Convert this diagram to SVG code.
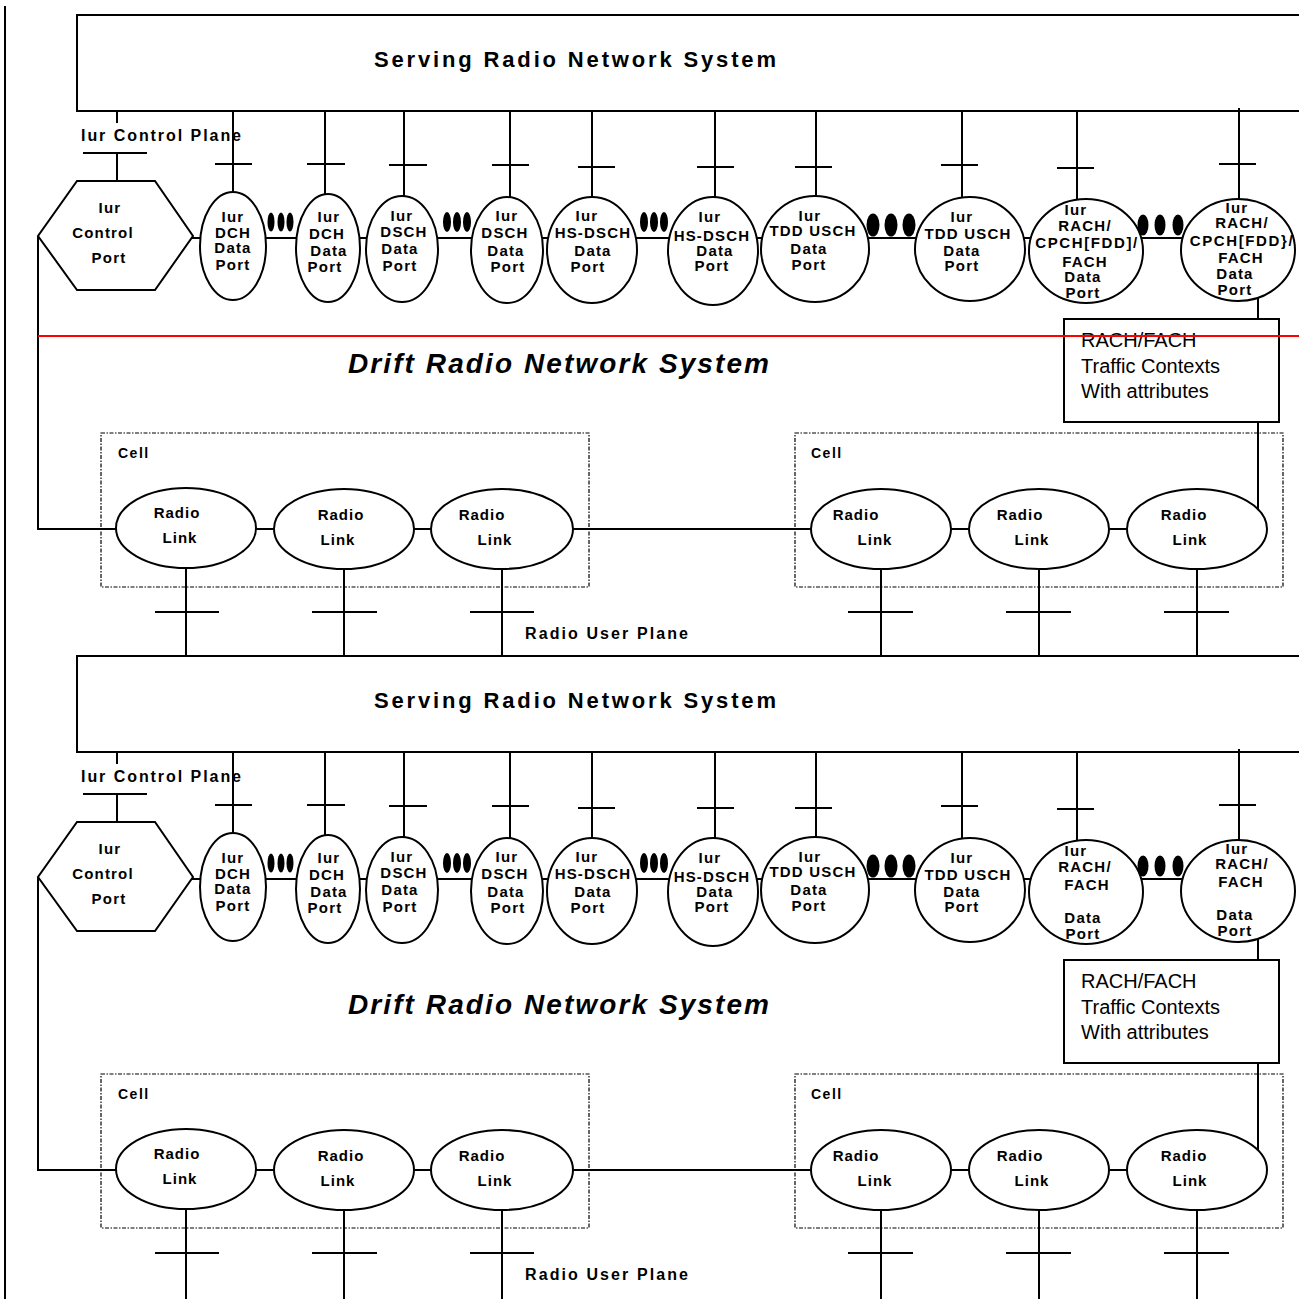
<svg xmlns="http://www.w3.org/2000/svg" width="1299" height="1299" viewBox="0 0 1299 1299">
<style>
  .ln{stroke:#000;stroke-width:2;fill:none}
  .nd{stroke:#000;stroke-width:2;fill:#fff}
  .cellbox{stroke:#000;stroke-width:1.2;fill:none;stroke-dasharray:4 1.5 1.5 1.5}
  .dot{fill:#000}
  text{font-family:"Liberation Sans",Arial,sans-serif;fill:#000}
  .pl{font-size:15px;font-weight:bold;letter-spacing:1.2px;text-anchor:middle}
  .rl{font-size:15px;font-weight:bold;letter-spacing:1px;text-anchor:middle}
  .cell{font-size:14px;font-weight:bold;letter-spacing:1.5px}
  .title{font-size:22px;font-weight:bold}
  .drift{font-size:28px;font-weight:bold;font-style:italic}
  .plane{font-size:16px;font-weight:bold}
  .ctx{font-size:20px}
</style>

<!-- left border -->
<line class="ln" x1="5" y1="6" x2="5" y2="1299"/>

<g id="connectors">
  <!-- ===== top half ===== -->
  <path class="ln" d="M117 111V123M83 153H147M117 153V181"/>
  <path class="ln" d="M233 111V246M215 164H252
    M325 111V248M307 164H345
    M404 111V249M389 165H427
    M510 111V250M492 165H529
    M592 111V250M578 167H615
    M715 111V251M697 167H734
    M816 111V249M795 167H832
    M962 111V249M941 165H978
    M1077 111V251M1057 168H1094
    M1239 108V250M1219 164H1256"/>
  <path class="ln" d="M190 238H1238"/>
  <path class="ln" d="M38 236V529H1197"/>
  <path class="ln" d="M1258 250V319M1258 422V529"/>
  <path class="ln" d="M186 529V656M155 612H219
    M344 529V656M312 612H377
    M502 529V656M470 612H534
    M881 529V656M848 612H913
    M1039 529V656M1006 612H1071
    M1197 529V656M1164 612H1229"/>

  <!-- ===== bottom half ===== -->
  <path class="ln" d="M117 752V764M83 794H147M117 794V822"/>
  <path class="ln" d="M233 752V887M215 805H252
    M325 752V889M307 805H345
    M404 752V890M389 806H427
    M510 752V891M492 806H529
    M592 752V891M578 808H615
    M715 752V892M697 808H734
    M816 752V890M795 808H832
    M962 752V890M941 806H978
    M1077 752V892M1057 809H1094
    M1239 749V891M1219 805H1256"/>
  <path class="ln" d="M190 879H1238"/>
  <path class="ln" d="M38 877V1170H1197"/>
  <path class="ln" d="M1258 891V960M1258 1063V1170"/>
  <path class="ln" d="M186 1170V1299M155 1253H219
    M344 1170V1299M312 1253H377
    M502 1170V1299M470 1253H534
    M881 1170V1299M848 1253H913
    M1039 1170V1299M1006 1253H1071
    M1197 1170V1299M1164 1253H1229"/>
</g>

<!-- ================= TOP HALF ================= -->
<g id="srns-top">
  <rect class="nd" x="77" y="15" width="1240" height="96" style="fill:none"/>
  <text class="title" x="374" y="67" textLength="402" lengthAdjust="spacing">Serving Radio Network System</text>
</g>
<text class="plane" x="81" y="141" textLength="160" lengthAdjust="spacing">Iur Control Plane</text>

<g id="cell1-top">
  <rect class="cellbox" x="101" y="433" width="488" height="154"/>
  <text class="cell" x="118" y="458">Cell</text>
</g>
<g id="cell2-top">
  <rect class="cellbox" x="795" y="433" width="488" height="154"/>
  <text class="cell" x="811" y="458">Cell</text>
</g>

<g id="ctrl-port-top">
  <polygon class="nd" points="77,181 155,181 193,236 155,290 77,290 38,236"/>
  <text class="pl" x="110" y="213">Iur</text>
  <text class="pl" x="103" y="238">Control</text>
  <text class="pl" x="109" y="263">Port</text>
</g>

<g id="dch1-top">
  <ellipse class="nd" cx="233" cy="246" rx="33" ry="54"/>
  <text class="pl" x="233" y="222">Iur</text><text class="pl" x="233" y="238">DCH</text>
  <text class="pl" x="233" y="253">Data</text><text class="pl" x="233" y="270">Port</text>
</g>
<g id="dch2-top">
  <ellipse class="nd" cx="328" cy="248" rx="32" ry="54"/>
  <text class="pl" x="329" y="222">Iur</text><text class="pl" x="327" y="239">DCH</text>
  <text class="pl" x="329" y="256">Data</text><text class="pl" x="325" y="272">Port</text>
</g>
<g id="dsch1-top">
  <ellipse class="nd" cx="402" cy="249" rx="36" ry="53"/>
  <text class="pl" x="402" y="221">Iur</text><text class="pl" x="404" y="237">DSCH</text>
  <text class="pl" x="400" y="254">Data</text><text class="pl" x="400" y="271">Port</text>
</g>
<g id="dsch2-top">
  <ellipse class="nd" cx="507" cy="250" rx="36" ry="53"/>
  <text class="pl" x="507" y="221">Iur</text><text class="pl" x="505" y="238">DSCH</text>
  <text class="pl" x="506" y="256">Data</text><text class="pl" x="508" y="272">Port</text>
</g>
<g id="hsdsch1-top">
  <ellipse class="nd" cx="592" cy="250" rx="45" ry="53"/>
  <text class="pl" x="587" y="221">Iur</text><text class="pl" x="593" y="238">HS-DSCH</text>
  <text class="pl" x="593" y="256">Data</text><text class="pl" x="588" y="272">Port</text>
</g>
<g id="hsdsch2-top">
  <ellipse class="nd" cx="713" cy="251" rx="45" ry="54"/>
  <text class="pl" x="710" y="222">Iur</text><text class="pl" x="712" y="241">HS-DSCH</text>
  <text class="pl" x="715" y="256">Data</text><text class="pl" x="712" y="271">Port</text>
</g>
<g id="tddusch1-top">
  <ellipse class="nd" cx="815" cy="249" rx="54" ry="53"/>
  <text class="pl" x="810" y="221">Iur</text><text class="pl" x="813" y="236">TDD USCH</text>
  <text class="pl" x="809" y="254">Data</text><text class="pl" x="809" y="270">Port</text>
</g>
<g id="tddusch2-top">
  <ellipse class="nd" cx="970" cy="249" rx="55" ry="52"/>
  <text class="pl" x="962" y="222">Iur</text><text class="pl" x="968" y="239">TDD USCH</text>
  <text class="pl" x="962" y="256">Data</text><text class="pl" x="962" y="271">Port</text>
</g>
<g id="rach1-top">
  <ellipse class="nd" cx="1086" cy="251" rx="57" ry="52"/>
  <text class="pl" x="1076" y="215">Iur</text><text class="pl" x="1085" y="231">RACH/</text>
  <text class="pl" x="1087" y="248" style="letter-spacing:1.6px">CPCH[FDD]/</text>
  <text class="pl" x="1085" y="267">FACH</text>
  <text class="pl" x="1083" y="282">Data</text><text class="pl" x="1083" y="298">Port</text>
</g>
<g id="rach2-top">
  <ellipse class="nd" cx="1238" cy="250" rx="57" ry="51"/>
  <text class="pl" x="1237" y="213">Iur</text><text class="pl" x="1242" y="228">RACH/</text>
  <text class="pl" x="1242" y="246" style="letter-spacing:1.6px">CPCH[FDD}/</text>
  <text class="pl" x="1241" y="263">FACH</text>
  <text class="pl" x="1235" y="279">Data</text><text class="pl" x="1235" y="295">Port</text>
</g>

<g id="dots-top">
  <ellipse class="dot" cx="271" cy="222" rx="3.5" ry="9.5"/><ellipse class="dot" cx="281" cy="222" rx="3.5" ry="9.5"/><ellipse class="dot" cx="290" cy="222" rx="3.5" ry="9.5"/>
  <ellipse class="dot" cx="447" cy="222" rx="4" ry="10"/><ellipse class="dot" cx="457" cy="222" rx="4" ry="10"/><ellipse class="dot" cx="467" cy="222" rx="4" ry="10"/>
  <ellipse class="dot" cx="644" cy="222" rx="4" ry="10"/><ellipse class="dot" cx="654" cy="222" rx="4" ry="10"/><ellipse class="dot" cx="664" cy="222" rx="4" ry="10"/>
  <ellipse class="dot" cx="873" cy="225" rx="6.5" ry="11.5"/><ellipse class="dot" cx="891" cy="225" rx="6.5" ry="11.5"/><ellipse class="dot" cx="909" cy="225" rx="6.5" ry="11.5"/>
  <ellipse class="dot" cx="1143" cy="225" rx="5.5" ry="10.5"/><ellipse class="dot" cx="1160" cy="225" rx="5.5" ry="10.5"/><ellipse class="dot" cx="1178" cy="225" rx="5.5" ry="10.5"/>
</g>

<g id="ctx-top">
  <rect class="nd" x="1064" y="319" width="215" height="103"/>
  <text class="ctx" x="1081" y="347">RACH/FACH</text>
  <text class="ctx" x="1081" y="373">Traffic Contexts</text>
  <text class="ctx" x="1081" y="398">With attributes</text>
</g>

<g id="drns-top">
  <text class="drift" x="348" y="373" textLength="421" lengthAdjust="spacing">Drift Radio Network System</text>
</g>

<g id="rl1-top"><ellipse class="nd" cx="186" cy="528" rx="70" ry="40"/>
  <text class="rl" x="177" y="518">Radio</text><text class="rl" x="180" y="543">Link</text></g>
<g id="rl2-top"><ellipse class="nd" cx="344" cy="529" rx="70" ry="40"/>
  <text class="rl" x="341" y="520">Radio</text><text class="rl" x="338" y="545">Link</text></g>
<g id="rl3-top"><ellipse class="nd" cx="502" cy="529" rx="71" ry="40"/>
  <text class="rl" x="482" y="520">Radio</text><text class="rl" x="495" y="545">Link</text></g>
<g id="rl4-top"><ellipse class="nd" cx="881" cy="529" rx="70" ry="40"/>
  <text class="rl" x="856" y="520">Radio</text><text class="rl" x="875" y="545">Link</text></g>
<g id="rl5-top"><ellipse class="nd" cx="1039" cy="529" rx="70" ry="40"/>
  <text class="rl" x="1020" y="520">Radio</text><text class="rl" x="1032" y="545">Link</text></g>
<g id="rl6-top"><ellipse class="nd" cx="1197" cy="529" rx="70" ry="40"/>
  <text class="rl" x="1184" y="520">Radio</text><text class="rl" x="1190" y="545">Link</text></g>

<text class="plane" x="525" y="639" textLength="163" lengthAdjust="spacing">Radio User Plane</text>

<line x1="38" y1="336" x2="1299" y2="336" stroke="#f00" stroke-width="2"/>

<!-- ================= BOTTOM HALF ================= -->
<g id="srns-bottom">
  <rect class="nd" x="77" y="656" width="1240" height="96" style="fill:none"/>
  <text class="title" x="374" y="708" textLength="402" lengthAdjust="spacing">Serving Radio Network System</text>
</g>
<text class="plane" x="81" y="782" textLength="160" lengthAdjust="spacing">Iur Control Plane</text>

<g id="cell1-bottom">
  <rect class="cellbox" x="101" y="1074" width="488" height="154"/>
  <text class="cell" x="118" y="1099">Cell</text>
</g>
<g id="cell2-bottom">
  <rect class="cellbox" x="795" y="1074" width="488" height="154"/>
  <text class="cell" x="811" y="1099">Cell</text>
</g>

<g id="ctrl-port-bottom">
  <polygon class="nd" points="77,822 155,822 193,877 155,931 77,931 38,877"/>
  <text class="pl" x="110" y="854">Iur</text>
  <text class="pl" x="103" y="879">Control</text>
  <text class="pl" x="109" y="904">Port</text>
</g>

<g id="dch1-bottom">
  <ellipse class="nd" cx="233" cy="887" rx="33" ry="54"/>
  <text class="pl" x="233" y="863">Iur</text><text class="pl" x="233" y="879">DCH</text>
  <text class="pl" x="233" y="894">Data</text><text class="pl" x="233" y="911">Port</text>
</g>
<g id="dch2-bottom">
  <ellipse class="nd" cx="328" cy="889" rx="32" ry="54"/>
  <text class="pl" x="329" y="863">Iur</text><text class="pl" x="327" y="880">DCH</text>
  <text class="pl" x="329" y="897">Data</text><text class="pl" x="325" y="913">Port</text>
</g>
<g id="dsch1-bottom">
  <ellipse class="nd" cx="402" cy="890" rx="36" ry="53"/>
  <text class="pl" x="402" y="862">Iur</text><text class="pl" x="404" y="878">DSCH</text>
  <text class="pl" x="400" y="895">Data</text><text class="pl" x="400" y="912">Port</text>
</g>
<g id="dsch2-bottom">
  <ellipse class="nd" cx="507" cy="891" rx="36" ry="53"/>
  <text class="pl" x="507" y="862">Iur</text><text class="pl" x="505" y="879">DSCH</text>
  <text class="pl" x="506" y="897">Data</text><text class="pl" x="508" y="913">Port</text>
</g>
<g id="hsdsch1-bottom">
  <ellipse class="nd" cx="592" cy="891" rx="45" ry="53"/>
  <text class="pl" x="587" y="862">Iur</text><text class="pl" x="593" y="879">HS-DSCH</text>
  <text class="pl" x="593" y="897">Data</text><text class="pl" x="588" y="913">Port</text>
</g>
<g id="hsdsch2-bottom">
  <ellipse class="nd" cx="713" cy="892" rx="45" ry="54"/>
  <text class="pl" x="710" y="863">Iur</text><text class="pl" x="712" y="882">HS-DSCH</text>
  <text class="pl" x="715" y="897">Data</text><text class="pl" x="712" y="912">Port</text>
</g>
<g id="tddusch1-bottom">
  <ellipse class="nd" cx="815" cy="890" rx="54" ry="53"/>
  <text class="pl" x="810" y="862">Iur</text><text class="pl" x="813" y="877">TDD USCH</text>
  <text class="pl" x="809" y="895">Data</text><text class="pl" x="809" y="911">Port</text>
</g>
<g id="tddusch2-bottom">
  <ellipse class="nd" cx="970" cy="890" rx="55" ry="52"/>
  <text class="pl" x="962" y="863">Iur</text><text class="pl" x="968" y="880">TDD USCH</text>
  <text class="pl" x="962" y="897">Data</text><text class="pl" x="962" y="912">Port</text>
</g>
<g id="rach1-bottom">
  <ellipse class="nd" cx="1086" cy="892" rx="57" ry="52"/>
  <text class="pl" x="1076" y="856">Iur</text><text class="pl" x="1085" y="872">RACH/</text>
  <text class="pl" x="1087" y="890">FACH</text>
  <text class="pl" x="1083" y="923">Data</text><text class="pl" x="1083" y="939">Port</text>
</g>
<g id="rach2-bottom">
  <ellipse class="nd" cx="1238" cy="891" rx="57" ry="51"/>
  <text class="pl" x="1237" y="854">Iur</text><text class="pl" x="1242" y="869">RACH/</text>
  <text class="pl" x="1241" y="887">FACH</text>
  <text class="pl" x="1235" y="920">Data</text><text class="pl" x="1235" y="936">Port</text>
</g>

<g id="dots-bottom">
  <ellipse class="dot" cx="271" cy="863" rx="3.5" ry="9.5"/><ellipse class="dot" cx="281" cy="863" rx="3.5" ry="9.5"/><ellipse class="dot" cx="290" cy="863" rx="3.5" ry="9.5"/>
  <ellipse class="dot" cx="447" cy="863" rx="4" ry="10"/><ellipse class="dot" cx="457" cy="863" rx="4" ry="10"/><ellipse class="dot" cx="467" cy="863" rx="4" ry="10"/>
  <ellipse class="dot" cx="644" cy="863" rx="4" ry="10"/><ellipse class="dot" cx="654" cy="863" rx="4" ry="10"/><ellipse class="dot" cx="664" cy="863" rx="4" ry="10"/>
  <ellipse class="dot" cx="873" cy="866" rx="6.5" ry="11.5"/><ellipse class="dot" cx="891" cy="866" rx="6.5" ry="11.5"/><ellipse class="dot" cx="909" cy="866" rx="6.5" ry="11.5"/>
  <ellipse class="dot" cx="1143" cy="866" rx="5.5" ry="10.5"/><ellipse class="dot" cx="1160" cy="866" rx="5.5" ry="10.5"/><ellipse class="dot" cx="1178" cy="866" rx="5.5" ry="10.5"/>
</g>

<g id="ctx-bottom">
  <rect class="nd" x="1064" y="960" width="215" height="103"/>
  <text class="ctx" x="1081" y="988">RACH/FACH</text>
  <text class="ctx" x="1081" y="1014">Traffic Contexts</text>
  <text class="ctx" x="1081" y="1039">With attributes</text>
</g>

<g id="drns-bottom">
  <text class="drift" x="348" y="1014" textLength="421" lengthAdjust="spacing">Drift Radio Network System</text>
</g>

<g id="rl1-bottom"><ellipse class="nd" cx="186" cy="1169" rx="70" ry="40"/>
  <text class="rl" x="177" y="1159">Radio</text><text class="rl" x="180" y="1184">Link</text></g>
<g id="rl2-bottom"><ellipse class="nd" cx="344" cy="1170" rx="70" ry="40"/>
  <text class="rl" x="341" y="1161">Radio</text><text class="rl" x="338" y="1186">Link</text></g>
<g id="rl3-bottom"><ellipse class="nd" cx="502" cy="1170" rx="71" ry="40"/>
  <text class="rl" x="482" y="1161">Radio</text><text class="rl" x="495" y="1186">Link</text></g>
<g id="rl4-bottom"><ellipse class="nd" cx="881" cy="1170" rx="70" ry="40"/>
  <text class="rl" x="856" y="1161">Radio</text><text class="rl" x="875" y="1186">Link</text></g>
<g id="rl5-bottom"><ellipse class="nd" cx="1039" cy="1170" rx="70" ry="40"/>
  <text class="rl" x="1020" y="1161">Radio</text><text class="rl" x="1032" y="1186">Link</text></g>
<g id="rl6-bottom"><ellipse class="nd" cx="1197" cy="1170" rx="70" ry="40"/>
  <text class="rl" x="1184" y="1161">Radio</text><text class="rl" x="1190" y="1186">Link</text></g>

<text class="plane" x="525" y="1280" textLength="163" lengthAdjust="spacing">Radio User Plane</text>
</svg>
